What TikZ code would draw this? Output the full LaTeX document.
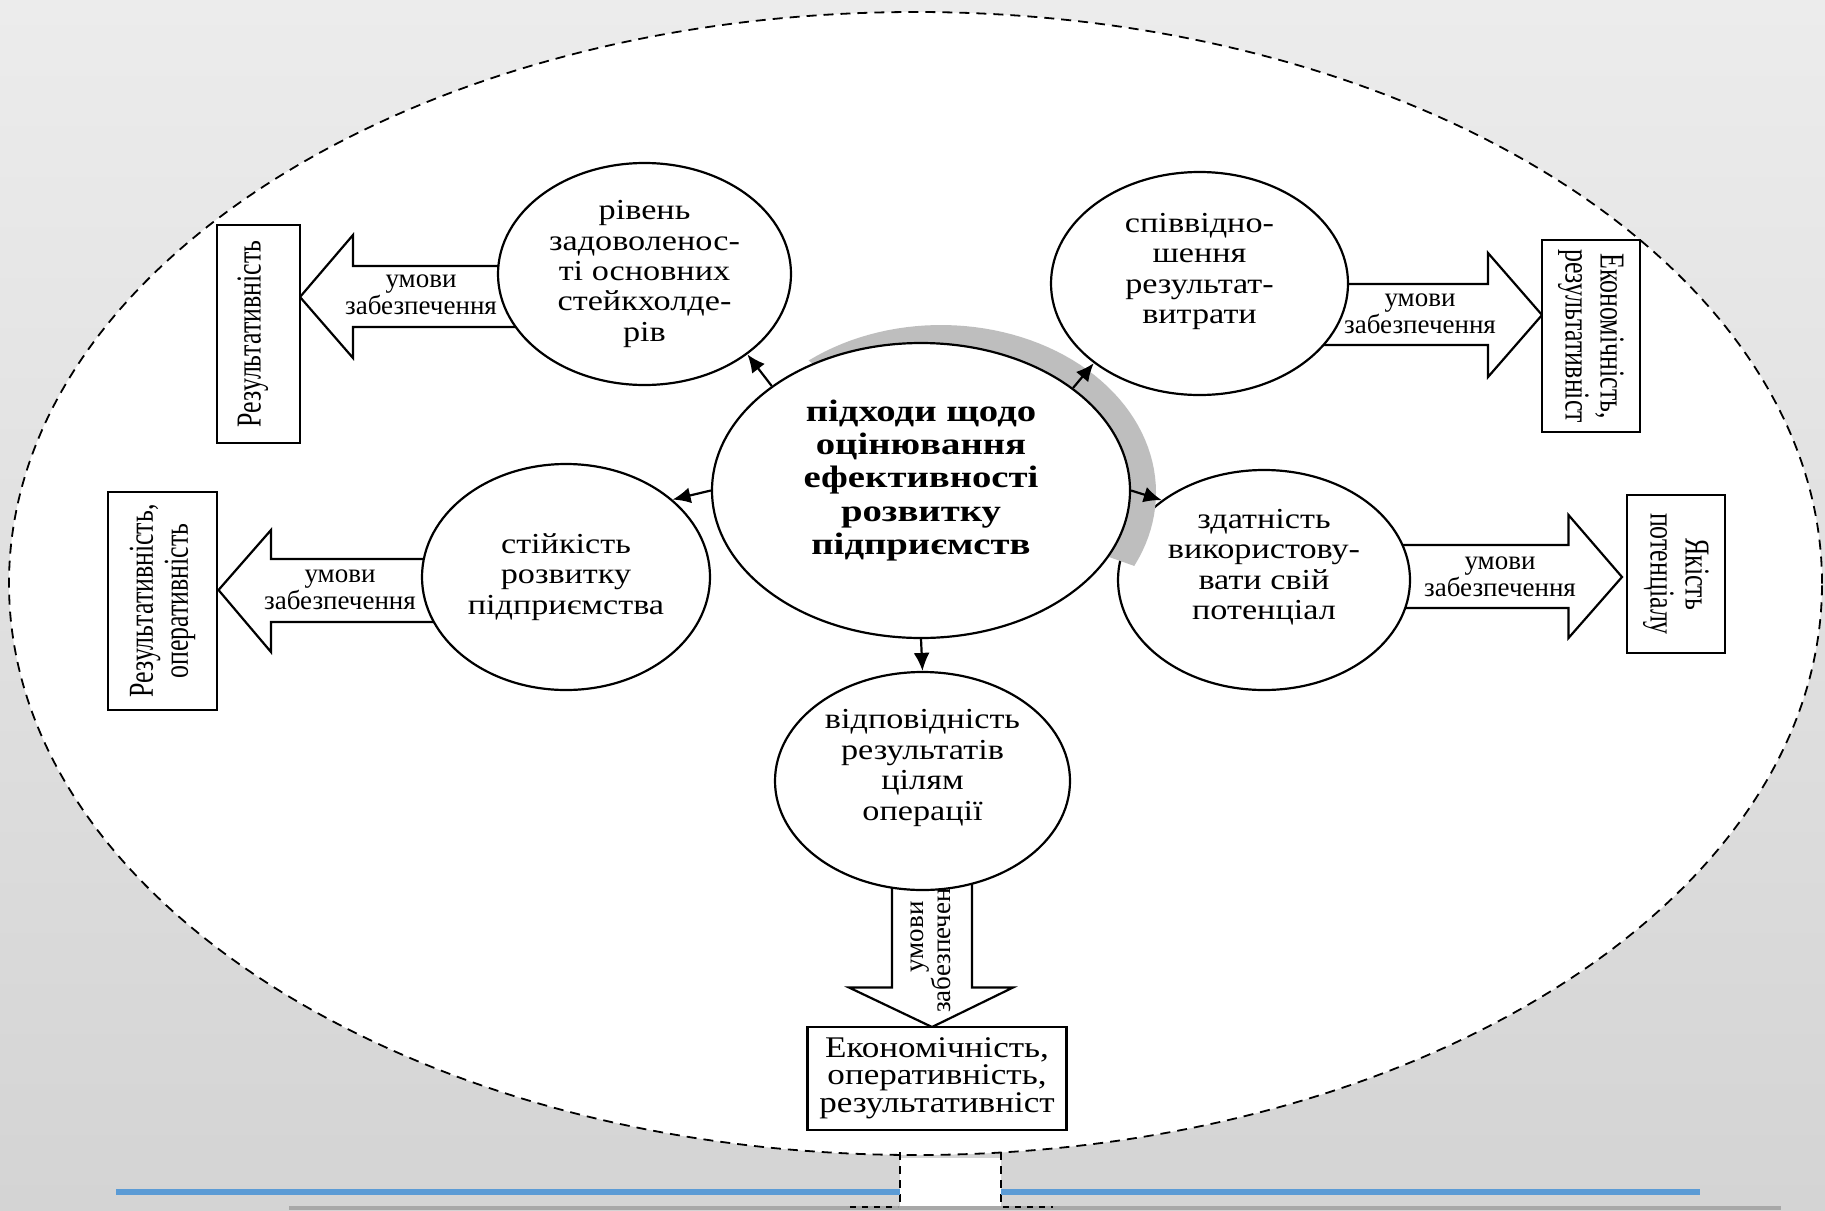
\documentclass[tikz,border=0pt]{standalone}
\usepackage{fontspec}
\setmainfont{Liberation Serif}
\newfontfamily\ellfont{Liberation Serif}[FakeStretch=1.18]
\newfontfamily\cenfont{Liberation Serif}[FakeStretch=1.25]
\newfontfamily\boxfont{Liberation Serif}[FakeStretch=1.17]
\newfontfamily\rotfont{Liberation Serif}[FakeStretch=0.74]
\usetikzlibrary{shapes.geometric}
\usetikzlibrary{arrows.meta}

\definecolor{bgtop}{RGB}{236,236,236}
\definecolor{bgbottom}{RGB}{212,212,212}
\definecolor{shadowgray}{RGB}{190,190,190}
\definecolor{lineblue}{RGB}{91,155,213}
\definecolor{bargray}{RGB}{168,168,168}

\begin{document}
\begin{tikzpicture}[x=0.5pt,y=-0.5pt]
	\tikzstyle{every node}=[inner sep=0pt]
	\tikzstyle{approach}=[ellipse,draw,fill=white,line width=1.1pt]
	\tikzstyle{approachtext}=[align=center,font=\ellfont\fontsize{14.5}{15.2}\selectfont]
	\tikzstyle{result}=[rectangle,draw,fill=white,line width=1.1pt,align=center,font=\rotfont\fontsize{17.5}{17.5}\selectfont]
	\tikzstyle{fat}=[draw,fill=white,line width=1.1pt,line join=miter]
	\tikzstyle{cond}=[align=center,font=\fontsize{13.5}{12.5}\selectfont]
	\tikzstyle{link}=[line width=1.1pt,-{Latex[length=9pt,width=8pt]}]
	\tikzstyle{frame}=[line width=0.9pt,dash pattern=on 5pt off 3.5pt]

	% background and outer field
	\useasboundingbox (0,0) rectangle (1825,1210);
	\shade[top color=bgtop,bottom color=bgbottom] (0,0) rectangle (1825,1210);
	\draw[frame,fill=white] (915.5,583.5) ellipse [x radius=453.25pt,y radius=285.75pt];
	\fill[white] (900,1158) rectangle (1001,1206);
	\draw[frame,dash pattern=on 4pt off 3pt] (900,1152) -- (900,1210) (1001,1152) -- (1001,1210);
	\draw[lineblue,line width=3pt] (116,1192) -- (900,1192);
	\draw[lineblue,line width=3pt] (1001,1192) -- (1700,1192);
	\fill[bargray] (289,1206) rectangle (1781,1210);
	\draw[frame,dash pattern=on 3pt off 3pt] (850,1207) -- (898,1207) (1003,1207) -- (1053,1207);

	% block arrows
	\draw[fat] (300,297) -- (353,235) -- (353,266) -- (560,266) -- (560,327) -- (353,327) -- (353,358) -- cycle;
	\draw[fat] (218.5,590) -- (271,530) -- (271,559) -- (480,559) -- (480,622) -- (271,622) -- (271,652) -- cycle;
	\draw[fat] (1542,315) -- (1488,253) -- (1488,284) -- (1300,284) -- (1300,345) -- (1488,345) -- (1488,377) -- cycle;
	\draw[fat] (1622,577) -- (1568.5,515) -- (1568.5,545) -- (1380,545) -- (1380,608) -- (1568.5,608) -- (1568.5,638) -- cycle;
	\draw[fat] (932,1027) -- (849,987.5) -- (892,987.5) -- (892,850) -- (972,850) -- (972,987.5) -- (1013,987.5) -- cycle;
	\node[cond] (ctl) at (421,295) {умови\\забезпечення};
	\node[cond] (clm) at (340,590) {умови\\забезпечення};
	\node[cond] (ctr) at (1420,314) {умови\\забезпечення};
	\node[cond] (crm) at (1500,577) {умови\\забезпечення};
	\node[cond,rotate=90] (cbm) at (931,937) {умови\\забезпечення};

	% approaches
	\node[approach,minimum width=146.5pt,minimum height=111pt] (tl) at (644.5,274) {};
	\node[approachtext] (tltxt) at (tl.center) {рівень\\задоволенос-\\ті основних\\стейкхолде-\\рів};
	\node[approach,minimum width=148.5pt,minimum height=111.5pt] (tr) at (1199.5,283.5) {};
	\node[approachtext] (trtxt) at ([yshift=6pt]tr.center) {співвідно-\\шення\\результат-\\витрати};
	\node[approach,minimum width=144pt,minimum height=113pt] (lm) at (566,577) {};
	\node[approachtext] (lmtxt) at (lm.center) {стійкість\\розвитку\\підприємства};
	\node[approach,minimum width=146pt,minimum height=110pt] (rm) at (1264,580) {};
	\node[approachtext] (rmtxt) at ([yshift=6.5pt]rm.center) {здатність\\використову-\\вати свій\\потенціал};
	\node[approach,minimum width=147.5pt,minimum height=109pt] (bm) at (922.5,781) {};
	\node[approachtext] (bmtxt) at ([yshift=6.5pt]bm.center) {відповідність\\результатів\\цілям\\операції};

	% centre, with its grey crescent
	\fill[shadowgray] plot[domain=-26:128,samples=60] ({941+215*cos(\x)},{492.5-167.5*sin(\x)}) -- (1082.8,583.9) -- (921,490.5) -- cycle;
	\node[approach,minimum width=209pt,minimum height=147.5pt] (c) at (921,490.5) {};
	\node[align=center,font=\cenfont\bfseries\fontsize{15.5}{16.7}\selectfont] (ctxt) at ([yshift=5pt]c.center) {підходи щодо\\оцінювання\\ефективності\\розвитку\\підприємств};

	\draw[link] (c.145) -- (tl.-38);
	\draw[link] (c.34) -- (tr.-143);
	\draw[link] (c.west) -- (lm.36);
	\draw[link] (c.east) -- (rm.142);
	\draw[link] (c.south) -- (bm.north);

	% results
	\node[result,rotate=90,minimum width=109pt,minimum height=41.5pt,text height=12pt,text depth=10pt] (rtl) at (258.5,334) {Результативність};
	\node[result,rotate=90,minimum width=109pt,minimum height=54.5pt] (rlm) at (162.5,601) {Результативність,\\оперативність};
	\node[result,rotate=-90,minimum width=96pt,minimum height=49pt] (rtr) at (1591,336) {Економічність,\\результативніст};
	\node[result,rotate=-90,minimum width=79pt,minimum height=49pt] (rrm) at (1676,574) {Якість\\потенціалу};
	\node[result,minimum width=129.5pt,minimum height=51.5pt,font=\boxfont\fontsize{15}{12}\selectfont] (rbm) at (937,1078.5) {Економічність,\\оперативність,\\результативніст};
\end{tikzpicture}
\end{document}
